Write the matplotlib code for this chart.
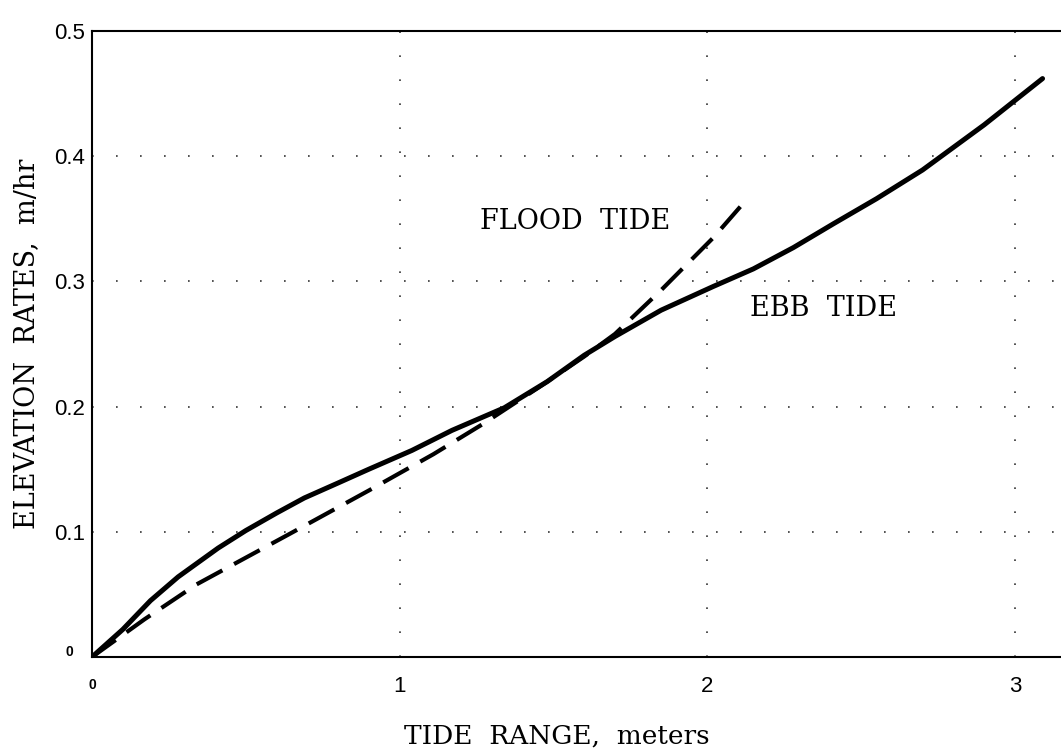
import matplotlib
matplotlib.use("Agg")
import matplotlib.pyplot as plt

# tide range (m) vs elevation rate (m/hr)
ebb_x = [0, 0.10, 0.19, 0.28, 0.41, 0.50, 0.60, 0.69, 0.80, 0.90, 1.04, 1.17, 1.34, 1.48, 1.60,
         1.70, 1.85, 2.02, 2.15, 2.28, 2.41, 2.55, 2.70, 2.90, 3.09]
ebb_y = [0, 0.022, 0.045, 0.064, 0.087, 0.101, 0.115, 0.127, 0.139, 0.150, 0.165, 0.181, 0.199,
         0.220, 0.241, 0.256, 0.277, 0.296, 0.310, 0.327, 0.346, 0.366, 0.389, 0.425, 0.462]

flood_x = [0, 0.17, 0.34, 0.64, 0.90, 1.11, 1.27, 1.45, 1.60, 1.70, 1.85, 2.02, 2.13]
flood_y = [0, 0.030, 0.058, 0.098, 0.133, 0.162, 0.186, 0.215, 0.240, 0.258, 0.293, 0.335, 0.366]

x_ticks = [0, 1, 2, 3]
x_labels = ["", "1", "2", "3"]
y_ticks = [0, 0.1, 0.2, 0.3, 0.4, 0.5]
y_labels = ["", "0.1", "0.2", "0.3", "0.4", "0.5"]

serif = "DejaVu Serif"
sans = "Liberation Sans"

fig = plt.figure(figsize=(10.61, 7.5), dpi=100)
ax = fig.add_axes([92 / 1061, 93 / 750, 1 - 92 / 1061, 626 / 750])

ax.plot(ebb_x, ebb_y, color="black", lw=3.6, solid_capstyle="round", solid_joinstyle="round")
ax.plot(flood_x, flood_y, color="black", lw=3.0, linestyle=(0, (7, 3.2)))

ax.set_xlim(0, 3.15)
ax.set_ylim(0, 0.5)

# sparse dotted grid
for gx in [1, 2, 3]:
    ax.axvline(gx, color="#333333", lw=1.2, linestyle=(0, (1, 13.4)), zorder=0)
for gy in [0.1, 0.2, 0.3, 0.4]:
    ax.axhline(gy, color="#333333", lw=1.2, linestyle=(0, (1, 13.4)), zorder=0)

ax.spines["right"].set_visible(False)
for s in ["left", "bottom", "top"]:
    ax.spines[s].set_linewidth(1.5)

ax.set_xticks(x_ticks)
ax.set_xticklabels(x_labels, fontfamily=sans, fontsize=16)
ax.set_yticks(y_ticks)
ax.set_yticklabels(y_labels, fontfamily=sans, fontsize=16)
ax.tick_params(length=0, pad=5)
ax.tick_params(axis="x", pad=14)

# the origin zeros are small and bold
ax.annotate("0", (0, 0), xytext=(0, -28), textcoords="offset pixels",
            ha="center", va="center", fontsize=10, fontweight="bold",
            fontfamily=sans, annotation_clip=False)
ax.annotate("0", (0, 0), xytext=(-23, 5), textcoords="offset pixels",
            ha="center", va="center", fontsize=10, fontweight="bold",
            fontfamily=sans, annotation_clip=False)

fig.text(557 / 1061, 1 - 736 / 750, "TIDE  RANGE,  meters", fontfamily=serif,
         fontsize=19, ha="center", va="center")
ax.set_ylabel("ELEVATION  RATES,  m/hr", fontfamily=serif, fontsize=19.5, labelpad=10)

ax.text(1.26, 0.348, "FLOOD  TIDE", fontfamily=serif, fontsize=19.5, va="center")
ax.text(2.14, 0.278, "EBB  TIDE", fontfamily=serif, fontsize=19.5, va="center")

fig.savefig("out.png", dpi=100)
